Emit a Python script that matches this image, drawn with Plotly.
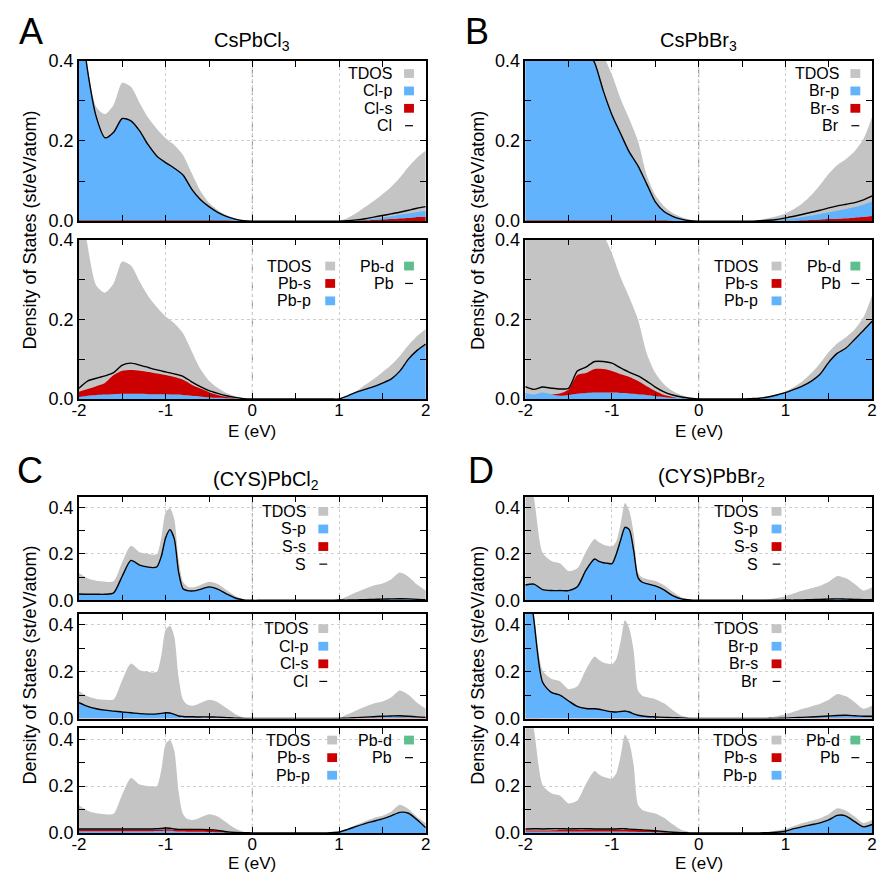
import plotly.graph_objects as go

W, H = 884, 882

# ---------------- energy grids ----------------
E_AB = [-2.0, -1.9, -1.8, -1.7, -1.6, -1.5, -1.4, -1.3, -1.2, -1.1, -1.0,
        -0.9, -0.8, -0.7, -0.6, -0.5, -0.4, -0.3, -0.2, -0.1, 0.0,
        0.1, 0.2, 0.3, 0.4, 0.5, 0.6, 0.7, 0.8, 0.9,
        1.0, 1.1, 1.2, 1.3, 1.4, 1.5, 1.6, 1.7, 1.8, 1.9, 2.0]
E_CD = [-2.0, -1.9, -1.8, -1.7, -1.6, -1.5, -1.4, -1.3, -1.2, -1.15, -1.1, -1.05,
        -1.0, -0.95, -0.9, -0.85, -0.8, -0.75, -0.7, -0.65, -0.6, -0.5, -0.4,
        -0.3, -0.2, -0.1, 0.0,
        0.1, 0.2, 0.3, 0.4, 0.5, 0.6, 0.7, 0.8,
        0.9, 1.0, 1.1, 1.2, 1.3, 1.4, 1.5, 1.6, 1.7, 1.8, 1.9, 2.0]

X_TICK_VALS = [-2, -1, 0, 1, 2]
X_TICK_TEXT = ["-2", "-1", "0", "1", "2"]
X_MINOR_VALS = [-1.5, -0.5, 0.5, 1.5]
Y_TICK_VALS = [0.0, 0.2, 0.4]
Y_TICK_TEXT = ["0.0", "0.2", "0.4"]
Y_MINOR_VALS = [0.1, 0.3]

# ---------------- A: CsPbCl3 ----------------
TDOS_A = [0.55, 0.385, 0.285, 0.267, 0.29, 0.345, 0.335, 0.295, 0.258, 0.23, 0.207,
          0.19, 0.165, 0.12, 0.076, 0.046, 0.028, 0.015, 0.007, 0.002, 0.0,
          0, 0, 0, 0, 0, 0, 0, 0, 0,
          0.001, 0.008, 0.02, 0.035, 0.05, 0.067, 0.085, 0.108, 0.135, 0.158, 0.176]
Cl_A = [0.55, 0.375, 0.26, 0.208, 0.222, 0.256, 0.25, 0.225, 0.19, 0.162, 0.146,
        0.132, 0.115, 0.08, 0.054, 0.036, 0.022, 0.012, 0.005, 0.001, 0.0,
        0, 0, 0, 0, 0, 0, 0, 0, 0,
        0.0, 0.001, 0.003, 0.006, 0.01, 0.014, 0.018, 0.022, 0.027, 0.032, 0.036]
Cl_s_A = [0.002, 0.002, 0.002, 0.002, 0.002, 0.002, 0.002, 0.002, 0.002, 0.002, 0.002,
          0.002, 0.002, 0.002, 0.002, 0.002, 0.002, 0.002, 0.001, 0.001, 0.0,
          0, 0, 0, 0, 0, 0, 0, 0, 0,
          0.0, 0.0, 0.001, 0.002, 0.003, 0.004, 0.005, 0.007, 0.008, 0.01, 0.011]
Cl_p_A = [0.548, 0.373, 0.258, 0.206, 0.22, 0.254, 0.248, 0.223, 0.188, 0.16, 0.144,
          0.13, 0.113, 0.078, 0.052, 0.034, 0.02, 0.01, 0.004, 0.0, 0.0,
          0, 0, 0, 0, 0, 0, 0, 0, 0,
          0.0, 0.001, 0.001, 0.002, 0.003, 0.005, 0.007, 0.009, 0.011, 0.013, 0.014]
Pb_A = [0.027, 0.045, 0.052, 0.058, 0.066, 0.085, 0.09, 0.085, 0.079, 0.073, 0.068,
        0.063, 0.057, 0.043, 0.031, 0.021, 0.014, 0.008, 0.004, 0.001, 0.0,
        0, 0, 0, 0, 0, 0, 0, 0, 0,
        0.0, 0.008, 0.017, 0.024, 0.031, 0.04, 0.05, 0.07, 0.1, 0.122, 0.138]
Pb_p_A = [0.005, 0.008, 0.01, 0.011, 0.012, 0.013, 0.013, 0.013, 0.012, 0.012, 0.012,
          0.011, 0.01, 0.008, 0.006, 0.004, 0.003, 0.002, 0.001, 0.0, 0.0,
          0, 0, 0, 0, 0, 0, 0, 0, 0,
          0.0, 0.007, 0.016, 0.023, 0.03, 0.039, 0.049, 0.069, 0.098, 0.12, 0.136]
Pb_s_A = [0.013, 0.017, 0.022, 0.029, 0.048, 0.058, 0.06, 0.058, 0.056, 0.052, 0.048,
          0.044, 0.038, 0.028, 0.02, 0.013, 0.007, 0.003, 0.001, 0.0, 0.0,
          0, 0, 0, 0, 0, 0, 0, 0, 0,
          0, 0, 0, 0, 0, 0, 0, 0, 0, 0, 0]

# ---------------- B: CsPbBr3 ----------------
TDOS_B = [0.9, 0.85, 0.8, 0.75, 0.7, 0.62, 0.55, 0.5, 0.46, 0.415, 0.365,
          0.305, 0.255, 0.2, 0.115, 0.065, 0.037, 0.02, 0.01, 0.003, 0.0,
          0, 0, 0, 0, 0, 0.001, 0.003, 0.007, 0.012,
          0.019, 0.03, 0.045, 0.065, 0.09, 0.118, 0.14, 0.155, 0.175, 0.205, 0.26]
Br_B = [0.85, 0.8, 0.74, 0.68, 0.6, 0.53, 0.47, 0.43, 0.395, 0.325, 0.265,
        0.218, 0.172, 0.138, 0.093, 0.048, 0.024, 0.012, 0.005, 0.001, 0.0,
        0, 0, 0, 0, 0, 0, 0.001, 0.002, 0.004,
        0.008, 0.012, 0.017, 0.022, 0.027, 0.033, 0.038, 0.042, 0.046, 0.053, 0.063]
Br_s_B = [0.002, 0.002, 0.002, 0.002, 0.002, 0.002, 0.002, 0.002, 0.002, 0.002, 0.002,
          0.002, 0.002, 0.002, 0.002, 0.002, 0.002, 0.001, 0.001, 0.0, 0.0,
          0, 0, 0, 0, 0, 0, 0, 0, 0,
          0.001, 0.001, 0.002, 0.003, 0.004, 0.005, 0.006, 0.007, 0.009, 0.011, 0.013]
Br_p_B = [0.848, 0.798, 0.738, 0.678, 0.598, 0.528, 0.468, 0.428, 0.393, 0.323, 0.263,
          0.216, 0.17, 0.136, 0.091, 0.046, 0.022, 0.011, 0.004, 0.0, 0.0,
          0, 0, 0, 0, 0, 0, 0.001, 0.001, 0.002,
          0.004, 0.006, 0.008, 0.011, 0.014, 0.017, 0.02, 0.023, 0.026, 0.03, 0.036]
Pb_B = [0.031, 0.024, 0.03, 0.027, 0.025, 0.027, 0.07, 0.08, 0.094, 0.094, 0.09,
        0.078, 0.067, 0.058, 0.045, 0.03, 0.018, 0.01, 0.005, 0.002, 0.0,
        0, 0, 0, 0, 0, 0.001, 0.002, 0.005, 0.01,
        0.016, 0.024, 0.033, 0.045, 0.062, 0.092, 0.115, 0.128, 0.15, 0.172, 0.195]
Pb_p_B = [0.015, 0.011, 0.016, 0.012, 0.008, 0.01, 0.013, 0.015, 0.016, 0.016, 0.016,
          0.015, 0.014, 0.012, 0.01, 0.007, 0.005, 0.003, 0.002, 0.001, 0.0,
          0, 0, 0, 0, 0, 0.001, 0.002, 0.004, 0.009,
          0.015, 0.022, 0.031, 0.043, 0.06, 0.089, 0.112, 0.125, 0.147, 0.169, 0.192]
Pb_s_B = [0, 0, 0, 0, 0.006, 0.014, 0.047, 0.05, 0.059, 0.059, 0.054,
          0.047, 0.041, 0.033, 0.022, 0.013, 0.005, 0.002, 0.0, 0.0, 0.0,
          0, 0, 0, 0, 0, 0, 0, 0, 0,
          0, 0, 0, 0, 0, 0, 0, 0, 0, 0, 0]

# ---------------- C: (CYS)PbCl2 ----------------
TDOS_C = [0.118, 0.095, 0.084, 0.08, 0.082, 0.165, 0.235, 0.207, 0.2, 0.197, 0.2, 0.27,
          0.38, 0.397, 0.35, 0.175, 0.08, 0.06, 0.055, 0.058, 0.066, 0.08, 0.07,
          0.045, 0.02, 0.005, 0.0,
          0, 0, 0, 0, 0, 0, 0, 0,
          0.001, 0.003, 0.018, 0.035, 0.05, 0.064, 0.073, 0.09, 0.12, 0.102, 0.068, 0.042]
S_C = [0.027, 0.026, 0.026, 0.026, 0.032, 0.105, 0.172, 0.152, 0.143, 0.141, 0.145, 0.19,
       0.27, 0.305, 0.265, 0.12, 0.05, 0.042, 0.04, 0.042, 0.047, 0.058, 0.048,
       0.028, 0.01, 0.002, 0.0,
       0, 0, 0, 0, 0, 0, 0, 0,
       0.0, 0.001, 0.001, 0.002, 0.003, 0.004, 0.005, 0.006, 0.007, 0.006, 0.004, 0.003]
S_s_C = [0.001, 0.001, 0.001, 0.001, 0.001, 0.001, 0.001, 0.001, 0.001, 0.001, 0.001, 0.001,
         0.001, 0.001, 0.001, 0.001, 0.001, 0.001, 0.001, 0.001, 0.001, 0.001, 0.001,
         0.001, 0.001, 0.0, 0.0,
         0, 0, 0, 0, 0, 0, 0, 0,
         0, 0, 0, 0, 0, 0, 0, 0, 0, 0, 0, 0]
S_p_C = [0.026, 0.025, 0.025, 0.025, 0.031, 0.104, 0.171, 0.151, 0.142, 0.14, 0.144, 0.189,
         0.269, 0.304, 0.264, 0.119, 0.049, 0.041, 0.039, 0.041, 0.046, 0.057, 0.047,
         0.027, 0.009, 0.002, 0.0,
         0, 0, 0, 0, 0, 0, 0, 0,
         0.0, 0.001, 0.001, 0.002, 0.003, 0.004, 0.005, 0.006, 0.007, 0.006, 0.004, 0.003]
Cl_C = [0.068, 0.052, 0.042, 0.036, 0.032, 0.028, 0.025, 0.021, 0.019, 0.019, 0.02, 0.022,
        0.025, 0.024, 0.018, 0.011, 0.009, 0.008, 0.008, 0.007, 0.007, 0.007, 0.006,
        0.004, 0.002, 0.001, 0.0,
        0, 0, 0, 0, 0, 0, 0, 0,
        0.0, 0.001, 0.002, 0.004, 0.006, 0.008, 0.01, 0.011, 0.012, 0.01, 0.007, 0.005]
Cl_s_C = [0.001, 0.001, 0.001, 0.001, 0.001, 0.001, 0.001, 0.001, 0.001, 0.001, 0.001, 0.001,
          0.001, 0.001, 0.001, 0.001, 0.001, 0.001, 0.001, 0.001, 0.001, 0.001, 0.001,
          0.001, 0.0, 0.0, 0.0,
          0, 0, 0, 0, 0, 0, 0, 0,
          0.0, 0.0, 0.001, 0.001, 0.002, 0.003, 0.003, 0.004, 0.005, 0.004, 0.003, 0.002]
Cl_p_C = [0.067, 0.051, 0.041, 0.035, 0.031, 0.027, 0.024, 0.02, 0.018, 0.018, 0.019, 0.021,
          0.024, 0.023, 0.017, 0.01, 0.008, 0.007, 0.007, 0.006, 0.006, 0.006, 0.005,
          0.003, 0.002, 0.001, 0.0,
          0, 0, 0, 0, 0, 0, 0, 0,
          0.0, 0.001, 0.001, 0.003, 0.004, 0.005, 0.007, 0.007, 0.007, 0.006, 0.004, 0.003]
Pb_C = [0.017, 0.017, 0.017, 0.017, 0.017, 0.017, 0.017, 0.017, 0.017, 0.017, 0.018, 0.019,
        0.021, 0.02, 0.017, 0.015, 0.015, 0.015, 0.015, 0.015, 0.015, 0.014, 0.011,
        0.005, 0.002, 0.001, 0.0,
        0, 0, 0, 0, 0, 0, 0, 0,
        0.001, 0.004, 0.015, 0.028, 0.04, 0.05, 0.06, 0.073, 0.088, 0.084, 0.056, 0.022]
Pb_p_C = [0.007, 0.007, 0.007, 0.007, 0.007, 0.007, 0.007, 0.007, 0.007, 0.007, 0.008, 0.008,
          0.009, 0.009, 0.007, 0.006, 0.006, 0.005, 0.005, 0.005, 0.005, 0.004, 0.003,
          0.002, 0.001, 0.0, 0.0,
          0, 0, 0, 0, 0, 0, 0, 0,
          0.001, 0.003, 0.013, 0.025, 0.037, 0.047, 0.057, 0.07, 0.085, 0.081, 0.053, 0.02]
Pb_s_C = [0.006, 0.006, 0.006, 0.006, 0.006, 0.006, 0.006, 0.006, 0.006, 0.006, 0.006, 0.006,
          0.006, 0.006, 0.006, 0.006, 0.007, 0.007, 0.008, 0.008, 0.008, 0.008, 0.006,
          0.002, 0.001, 0.0, 0.0,
          0, 0, 0, 0, 0, 0, 0, 0,
          0, 0, 0, 0, 0, 0, 0, 0, 0, 0, 0, 0]

# ---------------- D: (CYS)PbBr2 ----------------
TDOS_D = [0.6, 0.44, 0.205, 0.17, 0.16, 0.126, 0.138, 0.21, 0.265, 0.25, 0.24, 0.235,
          0.232, 0.255, 0.33, 0.42, 0.385, 0.29, 0.12, 0.098, 0.092, 0.083, 0.065,
          0.037, 0.013, 0.003, 0.0,
          0, 0, 0, 0, 0, 0, 0.001, 0.004,
          0.01, 0.018, 0.03, 0.042, 0.052, 0.063, 0.08, 0.105, 0.095, 0.07, 0.042, 0.056]
S_D = [0.066, 0.07, 0.046, 0.042, 0.042, 0.042, 0.058, 0.13, 0.178, 0.168, 0.162, 0.16,
       0.158, 0.2, 0.26, 0.315, 0.305, 0.215, 0.098, 0.078, 0.072, 0.062, 0.045,
       0.02, 0.006, 0.001, 0.0,
       0, 0, 0, 0, 0, 0, 0, 0,
       0.0, 0.001, 0.001, 0.002, 0.003, 0.004, 0.005, 0.006, 0.005, 0.004, 0.003, 0.003]
S_s_D = [0.001, 0.001, 0.001, 0.001, 0.001, 0.001, 0.001, 0.001, 0.001, 0.001, 0.001, 0.001,
         0.001, 0.001, 0.001, 0.001, 0.001, 0.001, 0.001, 0.001, 0.001, 0.001, 0.001,
         0.001, 0.001, 0.0, 0.0,
         0, 0, 0, 0, 0, 0, 0, 0,
         0, 0, 0, 0, 0, 0, 0, 0, 0, 0, 0, 0]
S_p_D = [0.065, 0.069, 0.045, 0.041, 0.041, 0.041, 0.057, 0.129, 0.177, 0.167, 0.161, 0.159,
         0.157, 0.199, 0.259, 0.314, 0.304, 0.214, 0.097, 0.077, 0.071, 0.061, 0.044,
         0.019, 0.005, 0.001, 0.0,
         0, 0, 0, 0, 0, 0, 0, 0,
         0.0, 0.001, 0.001, 0.002, 0.003, 0.004, 0.005, 0.006, 0.005, 0.004, 0.003, 0.003]
Br_D = [0.75, 0.42, 0.155, 0.112, 0.1, 0.075, 0.052, 0.043, 0.042, 0.04, 0.036, 0.032,
        0.029, 0.028, 0.03, 0.032, 0.028, 0.02, 0.014, 0.011, 0.009, 0.007, 0.005,
        0.004, 0.003, 0.001, 0.0,
        0, 0, 0, 0, 0, 0, 0, 0.001,
        0.001, 0.002, 0.004, 0.005, 0.007, 0.009, 0.011, 0.013, 0.014, 0.012, 0.01, 0.01]
Br_s_D = [0.002, 0.002, 0.001, 0.001, 0.001, 0.001, 0.001, 0.001, 0.001, 0.001, 0.001, 0.001,
          0.001, 0.001, 0.001, 0.001, 0.001, 0.001, 0.001, 0.001, 0.001, 0.001, 0.001,
          0.001, 0.0, 0.0, 0.0,
          0, 0, 0, 0, 0, 0, 0, 0,
          0.0, 0.0, 0.0, 0.001, 0.001, 0.002, 0.003, 0.003, 0.004, 0.003, 0.002, 0.002]
Br_p_D = [0.748, 0.418, 0.154, 0.111, 0.099, 0.074, 0.051, 0.042, 0.041, 0.039, 0.035, 0.031,
          0.028, 0.027, 0.029, 0.031, 0.027, 0.019, 0.013, 0.01, 0.008, 0.006, 0.004,
          0.003, 0.003, 0.001, 0.0,
          0, 0, 0, 0, 0, 0, 0, 0.001,
          0.001, 0.002, 0.004, 0.004, 0.006, 0.007, 0.008, 0.01, 0.01, 0.009, 0.008, 0.008]
Pb_D = [0.017, 0.018, 0.017, 0.018, 0.018, 0.017, 0.018, 0.018, 0.017, 0.017, 0.017, 0.017,
        0.017, 0.017, 0.018, 0.018, 0.016, 0.015, 0.014, 0.013, 0.012, 0.009, 0.006,
        0.003, 0.001, 0.0, 0.0,
        0, 0, 0, 0, 0, 0, 0, 0.001,
        0.003, 0.007, 0.018, 0.027, 0.035, 0.043, 0.056, 0.075, 0.072, 0.048, 0.026, 0.036]
Pb_p_D = [0.006, 0.006, 0.006, 0.006, 0.006, 0.006, 0.006, 0.006, 0.006, 0.006, 0.006, 0.006,
          0.006, 0.006, 0.006, 0.006, 0.005, 0.005, 0.004, 0.004, 0.004, 0.003, 0.002,
          0.001, 0.0, 0.0, 0.0,
          0, 0, 0, 0, 0, 0, 0, 0,
          0.002, 0.005, 0.015, 0.024, 0.032, 0.04, 0.053, 0.072, 0.069, 0.045, 0.023, 0.033]
Pb_s_D = [0.004, 0.004, 0.004, 0.004, 0.006, 0.006, 0.007, 0.007, 0.007, 0.007, 0.007, 0.007,
          0.007, 0.007, 0.007, 0.007, 0.007, 0.007, 0.007, 0.007, 0.007, 0.005, 0.003,
          0.001, 0.0, 0.0, 0.0,
          0, 0, 0, 0, 0, 0, 0, 0,
          0, 0, 0, 0, 0, 0, 0, 0, 0, 0, 0, 0]

# ---------------- styling ----------------
GREY = "#c4c4c4"
BLUE = "#61b3fd"
RED = "#cc0000"
GREEN = "#5dbf8e"
FONT = "Liberation Sans, Arial, Helvetica, sans-serif"
TICK_SIZE = 17
LEG_SIZE = 16

fig = go.Figure()
layout = dict(width=W, height=H, autosize=False, margin=dict(l=0, r=0, t=0, b=0, pad=0),
              paper_bgcolor="white", plot_bgcolor="white", showlegend=False,
              font=dict(family=FONT, color="black", size=17))
shapes, annotations = [], []

A_L, A_R = 72, 424
B_L, B_R = 525, 877


def add_subplot(i, box, yrange, E, tdos, stack, total, legend, show_x):
    l, r, t, b = box
    xa = "x" if i == 1 else f"x{i}"
    ya = "y" if i == 1 else f"y{i}"
    fig.add_trace(go.Scatter(x=E, y=tdos, xaxis=xa, yaxis=ya, mode="lines",
                             line=dict(width=0, shape="spline", smoothing=0.7),
                             fill="tozeroy", fillcolor=GREY, hoverinfo="skip"))
    for vals, col in stack:
        fig.add_trace(go.Scatter(x=E, y=vals, xaxis=xa, yaxis=ya, mode="lines",
                                 stackgroup=f"g{i}", fillcolor=col,
                                 line=dict(width=0, shape="spline", smoothing=0.7),
                                 hoverinfo="skip"))
    fig.add_trace(go.Scatter(x=E, y=total, xaxis=xa, yaxis=ya, mode="lines",
                             line=dict(width=1.4, color="black", shape="spline", smoothing=0.7),
                             hoverinfo="skip"))
    axx = dict(domain=[l / W, r / W], range=[-2, 2], anchor=ya,
               tickmode="array", tickvals=X_TICK_VALS, ticktext=X_TICK_TEXT,
               ticks="inside", ticklen=6, tickwidth=1, tickcolor="black",
               minor=dict(tickmode="array", tickvals=X_MINOR_VALS, ticks="inside",
                          ticklen=6, tickwidth=1, tickcolor="black", showgrid=False),
               showline=True, linecolor="black", linewidth=1.5, mirror="ticks",
               showgrid=True, gridcolor="#cdcdcd", griddash="dot", gridwidth=1,
               zeroline=False, showticklabels=show_x, fixedrange=True,
               ticklabeloverflow="allow", ticklabelstandoff=-5,
               tickfont=dict(size=TICK_SIZE, color="black", family=FONT))
    axy = dict(domain=[1 - b / H, 1 - t / H], range=list(yrange), anchor=xa,
               tickmode="array", tickvals=Y_TICK_VALS, ticktext=Y_TICK_TEXT,
               ticks="inside", ticklen=6, tickwidth=1, tickcolor="black",
               minor=dict(tickmode="array", tickvals=Y_MINOR_VALS, ticks="inside",
                          ticklen=6, tickwidth=1, tickcolor="black", showgrid=False),
               showline=True, linecolor="black", linewidth=1.5, mirror="ticks",
               showgrid=True, gridcolor="#cdcdcd", griddash="dot", gridwidth=1,
               zeroline=False, fixedrange=True, ticklabeloverflow="allow",
               tickfont=dict(size=18, color="black", family=FONT))
    layout["xaxis" if i == 1 else f"xaxis{i}"] = axx
    layout["yaxis" if i == 1 else f"yaxis{i}"] = axy
    # Fermi level marker
    shapes.append(dict(type="line", xref=xa, yref=f"{ya} domain", x0=0, x1=0, y0=0, y1=1,
                       line=dict(color="#8c8c8c", width=1, dash="dashdot"), layer="below"))
    # legend (gnuplot style: text right-aligned, then key)
    w, h = r - l, b - t
    row0, dy, cols = legend
    for text_right, key_c, entries in cols:
        for k, (label, kind, col) in enumerate(entries):
            yc = row0 + k * dy
            annotations.append(dict(text=label, xref=f"{xa} domain", yref=f"{ya} domain",
                                    x=text_right / w, y=1 - yc / h, xanchor="right",
                                    yanchor="middle", showarrow=False, borderpad=0,
                                    font=dict(size=LEG_SIZE, color="black", family=FONT)))
            if kind == "sq":
                shapes.append(dict(type="rect", xref=f"{xa} domain", yref=f"{ya} domain",
                                   x0=(key_c - 5) / w, x1=(key_c + 5) / w,
                                   y0=1 - (yc + 4.5) / h, y1=1 - (yc - 4.5) / h,
                                   fillcolor=col, line=dict(width=0)))
            else:
                shapes.append(dict(type="line", xref=f"{xa} domain", yref=f"{ya} domain",
                                   x0=(key_c - 4) / w, x1=(key_c + 4) / w,
                                   y0=1 - yc / h, y1=1 - yc / h,
                                   line=dict(color="black", width=1.2)))


def leg4(el, tr, kc, row0, dy):
    return (row0, dy, [(tr, kc, [("TDOS", "sq", GREY), (f"{el}-p", "sq", BLUE),
                                 (f"{el}-s", "sq", RED), (el, "ln", "black")])])


def legPb(tr1, kc1, tr2, kc2, row0, dy):
    return (row0, dy, [(tr1, kc1, [("TDOS", "sq", GREY), ("Pb-s", "sq", RED), ("Pb-p", "sq", BLUE)]),
                       (tr2, kc2, [("Pb-d", "sq", GREEN), ("Pb", "ln", "black")])])


YR_AB = (0, 0.4)
YR_CD = (0, 0.447)

# A
add_subplot(1, (A_L, A_R, 52, 216), YR_AB, E_AB, TDOS_A, [(Cl_s_A, RED), (Cl_p_A, BLUE)], Cl_A,
            leg4("Cl", 319, 335, 13, 17.8), False)
add_subplot(2, (A_L, A_R, 235, 398), YR_AB, E_AB, TDOS_A, [(Pb_p_A, BLUE), (Pb_s_A, RED)], Pb_A,
            legPb(237, 255, 321, 335, 27, 17.8), True)
# B
add_subplot(3, (B_L, B_R, 52, 216), YR_AB, E_AB, TDOS_B, [(Br_s_B, RED), (Br_p_B, BLUE)], Br_B,
            leg4("Br", 319, 335, 13, 17.8), False)
add_subplot(4, (B_L, B_R, 235, 398), YR_AB, E_AB, TDOS_B, [(Pb_p_B, BLUE), (Pb_s_B, RED)], Pb_B,
            legPb(237, 255, 321, 335, 27, 17.8), True)
# C
add_subplot(5, (A_L, A_R, 498, 604), YR_CD, E_CD, TDOS_C, [(S_s_C, RED), (S_p_C, BLUE)], S_C,
            leg4("S", 231, 248, 15, 18), False)
add_subplot(6, (A_L, A_R, 618, 725), YR_CD, E_CD, TDOS_C, [(Cl_s_C, RED), (Cl_p_C, BLUE)], Cl_C,
            leg4("Cl", 233, 248, 15, 18), False)
add_subplot(7, (A_L, A_R, 735, 842), YR_CD, E_CD, TDOS_C, [(Pb_p_C, BLUE), (Pb_s_C, RED)], Pb_C,
            legPb(236, 257, 319, 335, 12, 18), True)
# D
add_subplot(8, (B_L, B_R, 498, 604), YR_CD, E_CD, TDOS_D, [(S_s_D, RED), (S_p_D, BLUE)], S_D,
            leg4("S", 237, 255, 15, 18), False)
add_subplot(9, (B_L, B_R, 618, 725), YR_CD, E_CD, TDOS_D, [(Br_s_D, RED), (Br_p_D, BLUE)], Br_D,
            leg4("Br", 237, 255, 15, 18), False)
add_subplot(10, (B_L, B_R, 735, 842), YR_CD, E_CD, TDOS_D, [(Pb_p_D, BLUE), (Pb_s_D, RED)], Pb_D,
            legPb(236, 255, 320, 335, 12, 18), True)


def paper_text(text, x, y, size, angle=0):
    annotations.append(dict(text=text, xref="paper", yref="paper", x=x / W, y=1 - y / H,
                            xanchor="center", yanchor="middle", showarrow=False,
                            textangle=angle, font=dict(size=size, color="black", family=FONT)))


# panel letters
paper_text("A", 23, 22, 36)
paper_text("B", 476, 22, 36)
paper_text("C", 22, 471, 36)
paper_text("D", 480, 471, 36)
# titles
paper_text("CsPbCl<sub>3</sub>", 248, 32, 20)
paper_text("CsPbBr<sub>3</sub>", 701, 32, 20)
paper_text("(CYS)PbCl<sub>2</sub>", 262, 481, 20)
paper_text("(CYS)PbBr<sub>2</sub>", 714, 478, 20)
# axis titles
paper_text("E (eV)", 248, 431, 17)
paper_text("E (eV)", 701, 431, 17)
paper_text("E (eV)", 248, 873, 17)
paper_text("E (eV)", 701, 873, 17)
paper_text("Density of States (st/eV/atom)", 22, 225, 18, -90)
paper_text("Density of States (st/eV/atom)", 477, 225, 18, -90)
paper_text("Density of States (st/eV/atom)", 22, 670, 18, -90)
paper_text("Density of States (st/eV/atom)", 477, 670, 18, -90)

layout["shapes"] = shapes
layout["annotations"] = annotations
fig.update_layout(**layout)
fig.write_html("out.html", config={"displayModeBar": False},
               post_script="document.body.style.margin='0';document.body.style.overflow='hidden';")
